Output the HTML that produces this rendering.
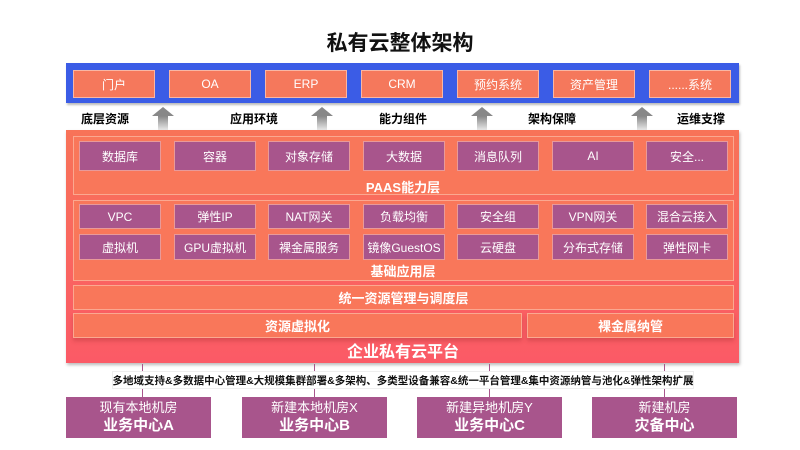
<!DOCTYPE html>
<html><head><meta charset="utf-8"><style>
*{margin:0;padding:0;box-sizing:border-box}
body{width:800px;height:450px;background:#fff;position:relative;overflow:hidden;font-family:"Liberation Sans","Noto Sans CJK SC",sans-serif}
.a{position:absolute}
.t{position:absolute;display:flex;align-items:center;justify-content:center;white-space:nowrap}
.ob{background:#f5785c;border:1.5px solid #f9b6a4;color:#fff;font-size:12px}
.pb{background:#a8558c;border:1.5px solid #e89a9a;color:#fff;font-size:12px}
.lbl{color:#fff;font-weight:bold;font-size:13px}
.panel{background:#f9775a;border:1.5px solid #fba890}
.arr{position:absolute;width:22px;height:24px}
.arr:before{content:"";position:absolute;left:0;top:0;border-left:11px solid transparent;border-right:11px solid transparent;border-bottom:9px solid #888}
.arr:after{content:"";position:absolute;left:6px;top:9px;width:10px;height:15px;background:linear-gradient(#888,#eee)}
.bt{color:#000;font-weight:bold;font-size:12px}
.dc{background:#a8558c;color:#fff;flex-direction:column;line-height:1.35}
.pa{position:absolute;width:1px;height:9px;background:#a8558c}
</style></head><body>
<div class="t" style="left:0;top:28px;width:800px;height:28px;font-size:21px;font-weight:bold;color:#111">私有云整体架构</div>

<div class="a" style="left:66px;top:63px;width:673px;height:40px;background:#3b5ce6;box-shadow:1px 2px 2px #bbb"></div>
<div class="t ob" style="left:73px;top:70px;width:82px;height:28px">门户</div>
<div class="t ob" style="left:169px;top:70px;width:82px;height:28px">OA</div>
<div class="t ob" style="left:265px;top:70px;width:82px;height:28px">ERP</div>
<div class="t ob" style="left:361px;top:70px;width:82px;height:28px">CRM</div>
<div class="t ob" style="left:457px;top:70px;width:82px;height:28px">预约系统</div>
<div class="t ob" style="left:553px;top:70px;width:82px;height:28px">资产管理</div>
<div class="t ob" style="left:649px;top:70px;width:82px;height:28px">......系统</div>

<div class="t bt" style="left:80px;top:110px;width:50px;height:16px">底层资源</div>
<div class="t bt" style="left:229px;top:110px;width:50px;height:16px">应用环境</div>
<div class="t bt" style="left:378px;top:110px;width:50px;height:16px">能力组件</div>
<div class="t bt" style="left:527px;top:110px;width:50px;height:16px">架构保障</div>
<div class="t bt" style="left:676px;top:110px;width:50px;height:16px">运维支撑</div>
<div class="arr" style="left:152px;top:107px"></div>
<div class="arr" style="left:311px;top:107px"></div>
<div class="arr" style="left:471px;top:107px"></div>
<div class="arr" style="left:631px;top:107px"></div>

<div class="a" style="left:66px;top:130px;width:673px;height:233px;background:linear-gradient(#f87358,#fb5a66);box-shadow:1px 2px 3px #bbb"></div>

<div class="a panel" style="left:73px;top:136px;width:661px;height:59px"></div>
<div class="t pb" style="left:79px;top:141px;width:82px;height:30px">数据库</div>
<div class="t pb" style="left:174px;top:141px;width:82px;height:30px">容器</div>
<div class="t pb" style="left:268px;top:141px;width:82px;height:30px">对象存储</div>
<div class="t pb" style="left:363px;top:141px;width:82px;height:30px">大数据</div>
<div class="t pb" style="left:457px;top:141px;width:82px;height:30px">消息队列</div>
<div class="t pb" style="left:552px;top:141px;width:82px;height:30px">AI</div>
<div class="t pb" style="left:646px;top:141px;width:82px;height:30px">安全...</div>
<div class="t lbl" style="left:0;top:177px;width:806px;height:18px">PAAS能力层</div>

<div class="a panel" style="left:73px;top:200px;width:661px;height:81px"></div>
<div class="t pb" style="left:79px;top:204px;width:82px;height:25px">VPC</div>
<div class="t pb" style="left:174px;top:204px;width:82px;height:25px">弹性IP</div>
<div class="t pb" style="left:268px;top:204px;width:82px;height:25px">NAT网关</div>
<div class="t pb" style="left:363px;top:204px;width:82px;height:25px">负载均衡</div>
<div class="t pb" style="left:457px;top:204px;width:82px;height:25px">安全组</div>
<div class="t pb" style="left:552px;top:204px;width:82px;height:25px">VPN网关</div>
<div class="t pb" style="left:646px;top:204px;width:82px;height:25px">混合云接入</div>
<div class="t pb" style="left:79px;top:234px;width:82px;height:26px">虚拟机</div>
<div class="t pb" style="left:174px;top:234px;width:82px;height:26px">GPU虚拟机</div>
<div class="t pb" style="left:268px;top:234px;width:82px;height:26px">裸金属服务</div>
<div class="t pb" style="left:363px;top:234px;width:82px;height:26px">镜像GuestOS</div>
<div class="t pb" style="left:457px;top:234px;width:82px;height:26px">云硬盘</div>
<div class="t pb" style="left:552px;top:234px;width:82px;height:26px">分布式存储</div>
<div class="t pb" style="left:646px;top:234px;width:82px;height:26px">弹性网卡</div>
<div class="t lbl" style="left:0;top:261px;width:806px;height:18px">基础应用层</div>

<div class="t panel lbl" style="left:73px;top:285px;width:661px;height:25px">统一资源管理与调度层</div>
<div class="t panel lbl" style="left:73px;top:313px;width:449px;height:25px;box-shadow:0 3px 4px rgba(150,40,40,.3)">资源虚拟化</div>
<div class="t panel lbl" style="left:527px;top:313px;width:207px;height:25px;box-shadow:0 3px 4px rgba(150,40,40,.3)">裸金属纳管</div>
<div class="t lbl" style="left:0;top:340px;width:806px;height:20px;font-size:16px">企业私有云平台</div>

<div class="pa" style="left:142px;top:364px"></div><div class="pa" style="left:142px;top:388px"></div>
<div class="pa" style="left:314px;top:364px"></div><div class="pa" style="left:314px;top:388px"></div>
<div class="pa" style="left:489px;top:364px"></div><div class="pa" style="left:489px;top:388px"></div>
<div class="pa" style="left:664px;top:364px"></div><div class="pa" style="left:664px;top:388px"></div>
<div class="t" style="left:112px;top:371px;width:582px;height:18px;background:#fff;border:1px solid #eee;font-size:10.5px;font-weight:bold;color:#111">多地域支持&amp;多数据中心管理&amp;大规模集群部署&amp;多架构、多类型设备兼容&amp;统一平台管理&amp;集中资源纳管与池化&amp;弹性架构扩展</div>

<div class="t dc" style="left:66px;top:397px;width:145px;height:41px"><span style="font-size:13px">现有本地机房</span><b style="font-size:15px">业务中心A</b></div>
<div class="t dc" style="left:242px;top:397px;width:145px;height:41px"><span style="font-size:13px">新建本地机房X</span><b style="font-size:15px">业务中心B</b></div>
<div class="t dc" style="left:417px;top:397px;width:145px;height:41px"><span style="font-size:13px">新建异地机房Y</span><b style="font-size:15px">业务中心C</b></div>
<div class="t dc" style="left:592px;top:397px;width:145px;height:41px"><span style="font-size:13px">新建机房</span><b style="font-size:15px">灾备中心</b></div>
</body></html>
